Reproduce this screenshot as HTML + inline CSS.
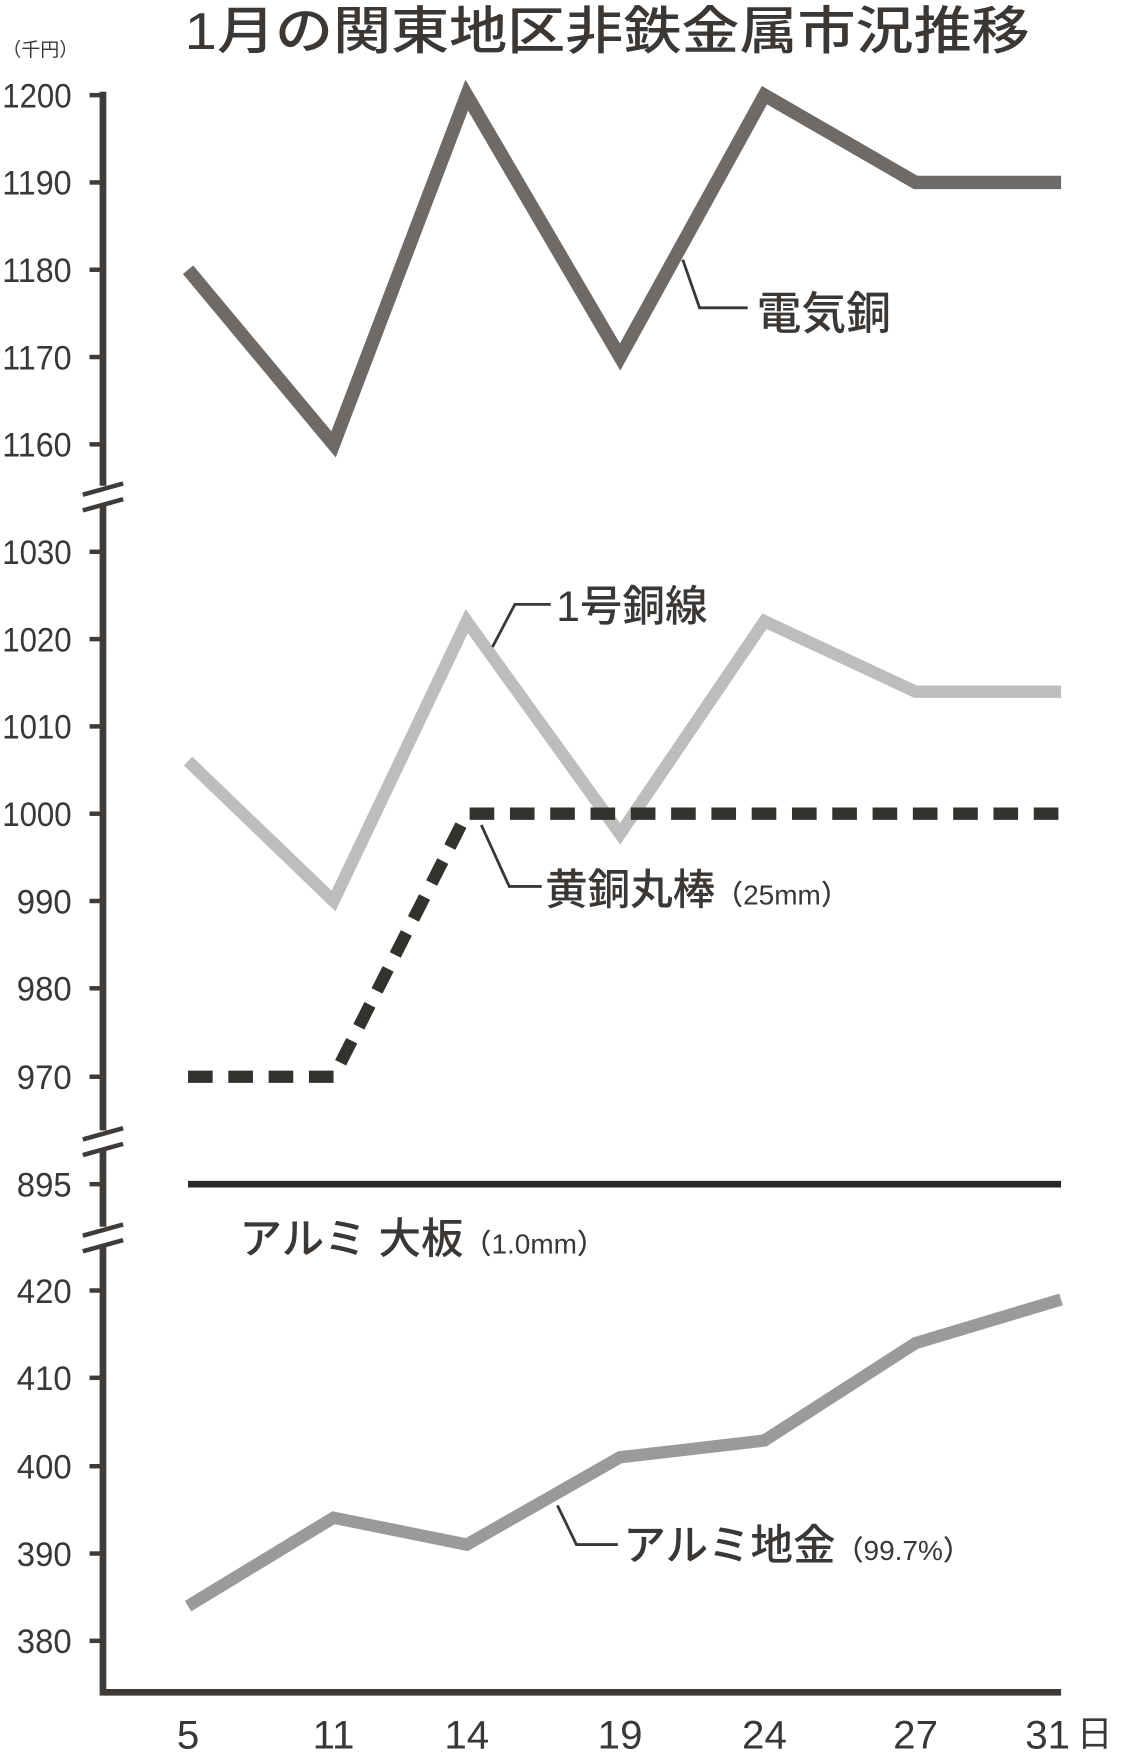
<!DOCTYPE html>
<html><head><meta charset="utf-8"><style>
html,body{margin:0;padding:0;background:#fff;}
svg{display:block;}
text{font-family:"Liberation Sans","Noto Sans CJK JP",sans-serif;fill:#3a3735;}
</style></head><body>
<svg width="1126" height="1755" viewBox="0 0 1006 1568" preserveAspectRatio="none" xmlns="http://www.w3.org/2000/svg">
<rect width="1006" height="1568" fill="#fff"/>
<text x="165" y="44" font-size="46" font-weight="500" textLength="755" lengthAdjust="spacingAndGlyphs">1月の関東地区非鉄金属市況推移</text>
<text x="2" y="50" font-size="17">（千円）</text>
<path d="M92,82 V1512 H948" fill="none" stroke="#3f3b38" stroke-width="6"/>
<g stroke="#3f3b38" stroke-width="4">
<line x1="80" y1="85" x2="92" y2="85"/><line x1="80" y1="163" x2="92" y2="163"/><line x1="80" y1="241" x2="92" y2="241"/><line x1="80" y1="319" x2="92" y2="319"/><line x1="80" y1="397" x2="92" y2="397"/>
<line x1="80" y1="493" x2="92" y2="493"/><line x1="80" y1="571" x2="92" y2="571"/><line x1="80" y1="649" x2="92" y2="649"/><line x1="80" y1="727" x2="92" y2="727"/><line x1="80" y1="805" x2="92" y2="805"/><line x1="80" y1="883" x2="92" y2="883"/><line x1="80" y1="962" x2="92" y2="962"/>
<line x1="80" y1="1058" x2="92" y2="1058"/>
<line x1="80" y1="1153" x2="92" y2="1153"/><line x1="80" y1="1231" x2="92" y2="1231"/><line x1="80" y1="1310" x2="92" y2="1310"/><line x1="80" y1="1388" x2="92" y2="1388"/><line x1="80" y1="1466" x2="92" y2="1466"/>
</g>
<g>
<rect x="86" y="434" width="12" height="18" fill="#fff"/>
<line x1="74" y1="442" x2="110" y2="432" stroke="#3f3b38" stroke-width="4"/>
<line x1="74" y1="456" x2="110" y2="446" stroke="#3f3b38" stroke-width="4"/>
<rect x="86" y="1010" width="12" height="18" fill="#fff"/>
<line x1="74" y1="1018" x2="110" y2="1008" stroke="#3f3b38" stroke-width="4"/>
<line x1="74" y1="1032" x2="110" y2="1022" stroke="#3f3b38" stroke-width="4"/>
<rect x="86" y="1096" width="12" height="18" fill="#fff"/>
<line x1="74" y1="1104" x2="110" y2="1094" stroke="#3f3b38" stroke-width="4"/>
<line x1="74" y1="1118" x2="110" y2="1108" stroke="#3f3b38" stroke-width="4"/>
</g>
<g font-size="31" text-anchor="end" lengthAdjust="spacingAndGlyphs">
<text x="64" y="96" textLength="62" lengthAdjust="spacingAndGlyphs">1200</text><text x="64" y="174" textLength="62" lengthAdjust="spacingAndGlyphs">1190</text><text x="64" y="252" textLength="62" lengthAdjust="spacingAndGlyphs">1180</text><text x="64" y="330" textLength="62" lengthAdjust="spacingAndGlyphs">1170</text><text x="64" y="408" textLength="62" lengthAdjust="spacingAndGlyphs">1160</text>
<text x="64" y="504" textLength="62" lengthAdjust="spacingAndGlyphs">1030</text><text x="64" y="582" textLength="62" lengthAdjust="spacingAndGlyphs">1020</text><text x="64" y="660" textLength="62" lengthAdjust="spacingAndGlyphs">1010</text><text x="64" y="738" textLength="62" lengthAdjust="spacingAndGlyphs">1000</text><text x="64" y="816" textLength="49" lengthAdjust="spacingAndGlyphs">990</text><text x="64" y="894" textLength="49" lengthAdjust="spacingAndGlyphs">980</text><text x="64" y="973" textLength="49" lengthAdjust="spacingAndGlyphs">970</text>
<text x="64" y="1069" textLength="49" lengthAdjust="spacingAndGlyphs">895</text>
<text x="64" y="1164" textLength="49" lengthAdjust="spacingAndGlyphs">420</text><text x="64" y="1242" textLength="49" lengthAdjust="spacingAndGlyphs">410</text><text x="64" y="1321" textLength="49" lengthAdjust="spacingAndGlyphs">400</text><text x="64" y="1399" textLength="49" lengthAdjust="spacingAndGlyphs">390</text><text x="64" y="1477" textLength="49" lengthAdjust="spacingAndGlyphs">380</text>
</g>
<g font-size="36" text-anchor="middle">
<text x="168" y="1562">5</text><text x="298" y="1562">11</text><text x="417" y="1562">14</text><text x="554" y="1562">19</text><text x="683" y="1562">24</text><text x="818" y="1562">27</text><text x="936" y="1562">31</text>
</g>
<text x="962" y="1560" font-size="32">日</text>
<polyline points="168,241 298,397 417,85 554,319 683,85 818,163 948,163" fill="none" stroke="#6e6a68" stroke-width="12"/>
<polyline points="168,680 298,805 417,555 554,745 683,555 818,618 948,618" fill="none" stroke="#bdbdbb" stroke-width="11"/>
<polyline points="168,962 298,962 417,727 948,727" fill="none" stroke="#33322f" stroke-width="11" stroke-dasharray="22,14"/>
<line x1="168" y1="1058" x2="948" y2="1058" stroke="#2a2826" stroke-width="6"/>
<polyline points="168,1435 298,1356 417,1380 554,1302 683,1287 818,1200 948,1161" fill="none" stroke="#9a9a98" stroke-width="11"/>
<g fill="none" stroke="#3a3735" stroke-width="2.5">
<polyline points="610,232 625,275 668,275"/>
<polyline points="440,578 460,540 492,540"/>
<polyline points="430,737 455,792 484,792"/>
<polyline points="498,1345 515,1380 552,1380"/>
</g>
<g font-weight="500">
<text x="676" y="294" font-size="40">電気銅</text>
<text x="497" y="555" font-size="38">1号銅線</text>
<text x="487" y="808" font-size="38">黄銅丸棒<tspan font-size="25">（25mm）</tspan></text>
<text x="214" y="1120" font-size="38">アルミ 大板<tspan font-size="25">（1.0mm）</tspan></text>
<text x="557" y="1394" font-size="38">アルミ地金<tspan font-size="25">（99.7%）</tspan></text>
</g>
</svg>
</body></html>
